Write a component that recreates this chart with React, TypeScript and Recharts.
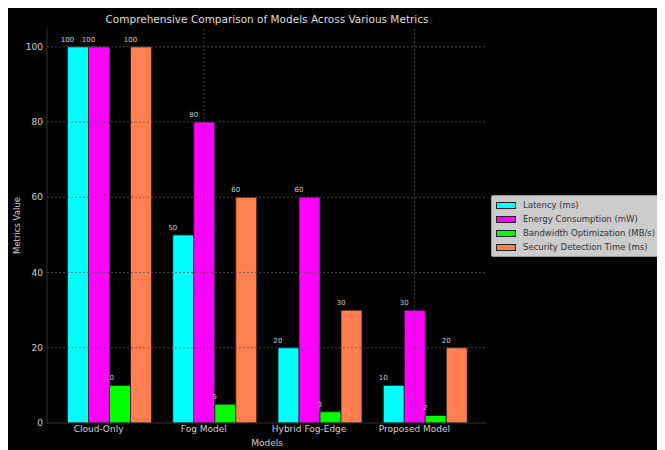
import React from "react";
import { BarChart, Bar, XAxis, YAxis, ReferenceLine, LabelList } from "recharts";

const models = ["Cloud-Only", "Fog Model", "Hybrid Fog-Edge", "Proposed Model"];
const latency = [100, 50, 20, 10];
const energy = [100, 80, 60, 30];
const bandwidth = [10, 5, 3, 2];
const security = [100, 60, 30, 20];
const yTicks = [0, 20, 40, 60, 80, 100];
const gridModels = [1, 3];

const series = [
  { key: "latency", name: "Latency (ms)", color: "#00FFFF" },
  { key: "energy", name: "Energy Consumption (mW)", color: "#FF00FF" },
  { key: "bandwidth", name: "Bandwidth Optimization (MB/s)", color: "#00FF00" },
  { key: "security", name: "Security Detection Time (ms)", color: "#FF7F50" },
];

const data = models.map((m, i) => ({
  model: m,
  idx: i,
  latency: latency[i],
  energy: energy[i],
  bandwidth: bandwidth[i],
  security: security[i],
}));

const FONT = "DejaVu Sans, Verdana, sans-serif";

const LegendBox = () => (
  <div
    style={{
      position: "absolute",
      left: 483,
      top: 187,
      background: "#cccccc",
      border: "1px solid #999",
      borderRadius: 2,
      padding: "2px 4px",
      width: 190,
      fontFamily: FONT,
      fontSize: 8.5,
      color: "#333",
      boxSizing: "border-box",
      zIndex: 2,
    }}
  >
    {series.map((s) => (
      <div key={s.key} style={{ display: "flex", alignItems: "center", height: 14, whiteSpace: "nowrap" }}>
        <div style={{ width: 18, height: 5, background: s.color, border: "1px solid #222", marginRight: 7 }} />
        <span>{s.name}</span>
      </div>
    ))}
  </div>
);

const EdgeLabel = (props: any) => {
  const { x, y, value } = props;
  return (
    <text x={x} y={y - 5} textAnchor="middle" fill="#d0d0d0" fontSize={7} fontFamily={FONT}>
      {value}
    </text>
  );
};

export default function App() {
  return (
    <div style={{ position: "relative", width: 657, height: 442, background: "#000", overflow: "hidden" }}>
      <div
        style={{
          position: "absolute",
          top: 4,
          left: 0,
          width: 518,
          textAlign: "center",
          fontFamily: FONT,
          fontSize: 10.5,
          lineHeight: "14px",
          color: "#dddddd",
          zIndex: 2,
        }}
      >
        Comprehensive Comparison of Models Across Various Metrics
      </div>
      <BarChart
        width={657}
        height={442}
        data={data}
        margin={{ top: 20, right: 178, left: 9, bottom: 0 }}
        barSize={21}
        barGap={0}
        style={{ fontFamily: FONT }}
      >
        <XAxis xAxisId="cat" dataKey="model" hide height={0} padding={{ left: 9.5, right: 9.5 }} />
        <XAxis
          xAxisId="num"
          dataKey="idx"
          type="number"
          domain={[-0.49, 3.69]}
          allowDataOverflow
          ticks={[0, 1, 2, 3]}
          tickFormatter={(v: number) => models[v]}
          axisLine={{ stroke: "#333" }}
          tickLine={false}
          tickSize={0}
          tickMargin={3}
          tick={{ fill: "#d0d0d0", fontSize: 9 }}
          height={27}
          label={{ value: "Models", position: "insideBottom", offset: 4, fill: "#d0d0d0", fontSize: 9 }}
        />
        <YAxis
          domain={[0, 105]}
          ticks={yTicks}
          allowDataOverflow
          axisLine={{ stroke: "#333" }}
          tickLine={false}
          tickSize={0}
          tickMargin={4}
          tick={{ fill: "#d0d0d0", fontSize: 9 }}
          width={30}
          label={{ value: "Metrics Value", angle: -90, position: "center", dx: -15, fill: "#d0d0d0", fontSize: 8.5 }}
        />
        {yTicks.slice(1).map((t) => (
          <ReferenceLine key={"h" + t} y={t} xAxisId="num" stroke="#555" strokeDasharray="2 2" strokeWidth={0.8} />
        ))}
        {series.map((s) => (
          <Bar
            key={s.key}
            xAxisId="cat"
            dataKey={s.key}
            name={s.name}
            fill={s.color}
            stroke="#1a1a1a"
            strokeWidth={0.8}
            isAnimationActive={false}
          >
            <LabelList dataKey={s.key} content={<EdgeLabel />} />
          </Bar>
        ))}
        {gridModels.map((g) => (
          <ReferenceLine key={g} xAxisId="num" x={g} stroke="#555" strokeDasharray="2 2" strokeWidth={0.8} />
        ))}
      </BarChart>
      <LegendBox />
    </div>
  );
}
